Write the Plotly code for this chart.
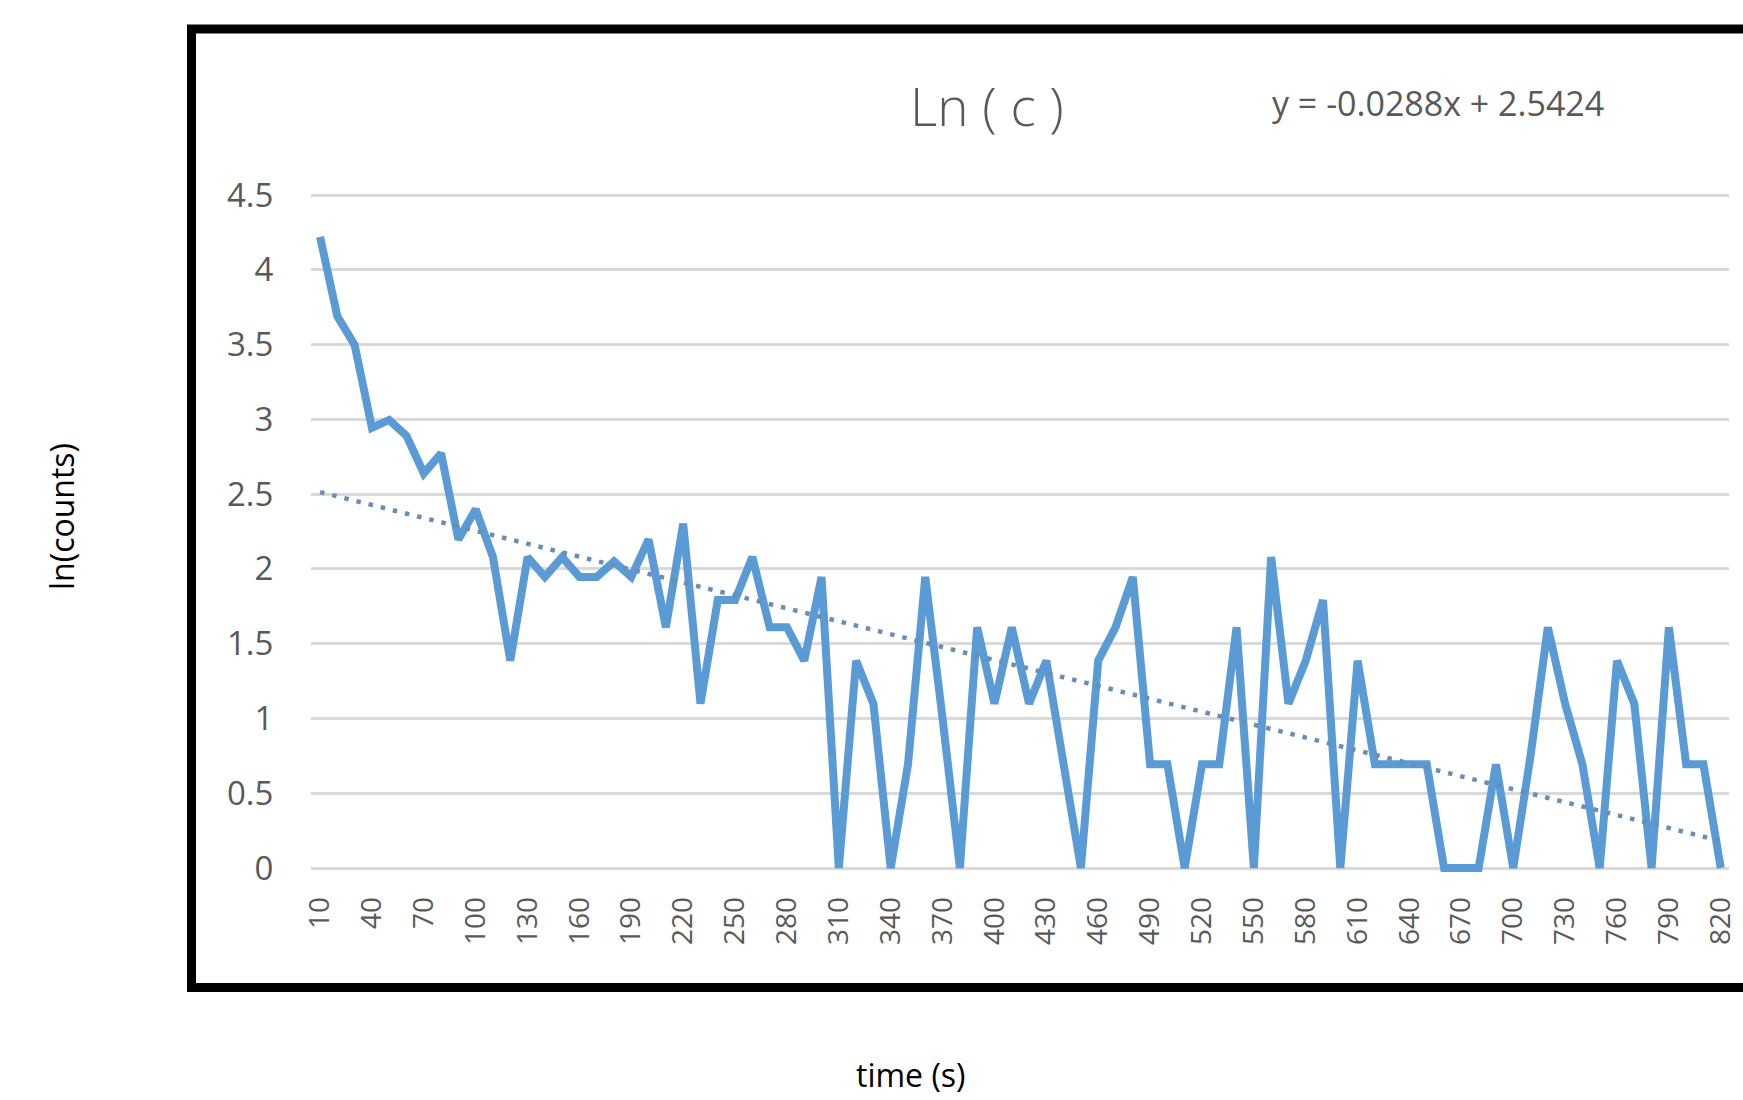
import numpy as np
import plotly.graph_objects as go

W, H = 1743, 1100

# ---- data ----
times = list(range(10, 830, 10))  # 10 .. 820 s
ln_counts = [
    4.220, 3.689, 3.497, 2.944, 2.996, 2.890, 2.639, 2.773, 2.197, 2.398,   # 10-100
    2.079, 1.386, 2.079, 1.946, 2.079, 1.946, 1.946, 2.050, 1.946, 2.197,   # 110-200
    1.609, 2.303, 1.099, 1.792, 1.792, 2.079, 1.609, 1.609, 1.386, 1.946,   # 210-300
    0.000, 1.386, 1.099, 0.000, 0.693, 1.946, 1.000, 0.000, 1.609, 1.099,   # 310-400
    1.609, 1.099, 1.386, 0.693, 0.000, 1.386, 1.609, 1.946, 0.693, 0.693,   # 410-500
    0.000, 0.693, 0.693, 1.609, 0.000, 2.079, 1.099, 1.386, 1.792, 0.000,   # 510-600
    1.386, 0.693, 0.693, 0.693, 0.693, 0.000, 0.000, 0.000, 0.693, 0.000,   # 610-700
    0.750, 1.609, 1.099, 0.693, 0.000, 1.386, 1.099, 0.000, 1.609, 0.693,   # 710-800
    0.693, 0.000,                                                           # 810-820
]
trend_slope = -0.0288
trend_intercept = 2.5424
y_ticks = [0, 0.5, 1, 1.5, 2, 2.5, 3, 3.5, 4, 4.5]
y_tick_labels = ["0", "0.5", "1", "1.5", "2", "2.5", "3", "3.5", "4", "4.5"]
x_tick_vals = times[::3]
x_tick_labels = [str(t) for t in x_tick_vals]

chart_title = "Ln ( c )"
equation_text = "y = -0.0288x + 2.5424"
x_title = "time (s)"
y_title = "ln(counts)"

# Excel trendline uses point index 1..n as x
idx = np.arange(1, len(times) + 1)
trend = trend_intercept + trend_slope * idx

FONT = "Open Sans, Lato, Liberation Sans, sans-serif"
GRAY_TXT = "#595959"
BLUE = "#5B9BD5"

fig = go.Figure()
fig.add_trace(go.Scatter(
    x=times, y=ln_counts, mode="lines",
    line=dict(color=BLUE, width=8), showlegend=False, hoverinfo="x+y",
))
fig.add_trace(go.Scatter(
    x=times, y=trend, mode="lines",
    line=dict(color="#6a8db5", width=4.5, dash="4.5px,8px"), showlegend=False,
    hoverinfo="skip",
))

def px_x(p):
    return p / W

def px_y(p):
    return 1 - p / H

YPAD = 0.03  # so gridlines at 0 and 4.5 are not clipped at the range ends
y_lo, y_hi = 0 - YPAD, 4.5 + YPAD
y0_px, y45_px = 868, 195
ppu = (y0_px - y45_px) / 4.5
dom_bottom = y0_px + YPAD * ppu
dom_top = y45_px - YPAD * ppu

fig.update_layout(
    width=W, height=H, autosize=False,
    margin=dict(l=0, r=0, t=0, b=0, pad=0, autoexpand=False),
    showlegend=False,
    paper_bgcolor="white", plot_bgcolor="white",
    font=dict(family=FONT, color=GRAY_TXT),
    xaxis=dict(
        domain=[px_x(311.4), px_x(1729.4)],
        range=[5, 825], automargin=False,
        tickmode="array", tickvals=x_tick_vals, ticktext=x_tick_labels,
        tickangle=-90, tickfont=dict(size=28, color=GRAY_TXT, family=FONT),
        showgrid=False, zeroline=False,
        showline=False, ticks="", ticklabelstandoff=int(round(22 - YPAD * ppu)),
        fixedrange=True,
    ),
    yaxis=dict(
        domain=[px_y(dom_bottom), px_y(dom_top)],
        range=[y_lo, y_hi], automargin=False,
        tickmode="array", tickvals=y_ticks, ticktext=y_tick_labels,
        tickfont=dict(size=33, color=GRAY_TXT, family=FONT),
        showgrid=True, gridcolor="#D9D9D9", gridwidth=2.5,
        zeroline=False, showline=False, ticks="", ticklabelstandoff=37,
        fixedrange=True,
    ),
    shapes=[
        dict(type="rect", xref="paper", yref="paper",
             x0=px_x(191.5), x1=1.02, y0=px_y(987.5), y1=px_y(29),
             line=dict(color="black", width=9), fillcolor="rgba(0,0,0,0)",
             layer="above"),
    ],
    annotations=[
        dict(text=chart_title, xref="paper", yref="paper",
             x=px_x(987), y=px_y(106), xanchor="center", yanchor="middle",
             showarrow=False,
             font=dict(size=53, color=GRAY_TXT, family=FONT, weight=300)),
        dict(text=equation_text, xref="paper", yref="paper",
             x=px_x(1438), y=px_y(103), xanchor="center", yanchor="middle",
             showarrow=False, font=dict(size=34, color=GRAY_TXT, family=FONT)),
        dict(text=x_title, xref="paper", yref="paper",
             x=px_x(911), y=px_y(1074), xanchor="center", yanchor="middle",
             showarrow=False, font=dict(size=32, color="black", family=FONT)),
        dict(text=y_title, xref="paper", yref="paper",
             x=px_x(61), y=px_y(517), xanchor="center", yanchor="middle",
             textangle=-90,
             showarrow=False, font=dict(size=32, color="black", family=FONT)),
    ],
)

fig.write_html(
    "out.html",
    config={"displayModeBar": False},
    post_script="document.body.style.margin='0px';document.body.style.overflow='hidden';",
)
